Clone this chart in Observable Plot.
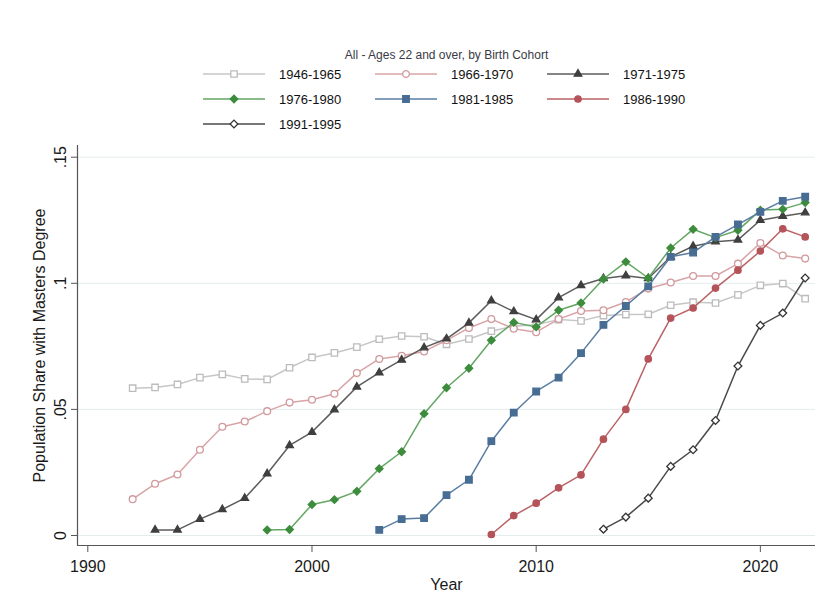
<!DOCTYPE html>
<html>
<head>
<meta charset="utf-8">
<script src="https://cdn.jsdelivr.net/npm/d3@7"></script>
<script src="https://cdn.jsdelivr.net/npm/@observablehq/plot@0.6"></script>
<style>
  body { margin: 0; background: #fff; font-family: "Liberation Sans", Arial, sans-serif; }
  #wrap { width: 821px; height: 611px; overflow: hidden; background: #fff; }
  #head { height: 140px; }
  #head svg, #chart svg { display: block; }
</style>
</head>
<body>
<div id="wrap">
  <div id="head"></div>
  <div id="chart"></div>
</div>
<script>
// ---------------- DATA ----------------
const chartTitle = "All - Ages 22 and over, by Birth Cohort";
const xLabel = "Year";
const yLabel = "Population Share with Masters Degree";
const xTicks = [1990, 2000, 2010, 2020];
const yTicks = [0, 0.05, 0.1, 0.15];

const years = [1992, 1993, 1994, 1995, 1996, 1997, 1998, 1999, 2000, 2001,
               2002, 2003, 2004, 2005, 2006, 2007, 2008, 2009, 2010, 2011,
               2012, 2013, 2014, 2015, 2016, 2017, 2018, 2019, 2020, 2021, 2022];

const cohorts = ["1946-1965", "1966-1970", "1971-1975", "1976-1980", "1981-1985", "1986-1990", "1991-1995"];

const n = null;
const c1946_1965 = [0.0584, 0.0587, 0.0599, 0.0626, 0.0639, 0.0621, 0.0619, 0.0665, 0.0706, 0.0724,
                    0.0747, 0.0778, 0.0791, 0.0788, 0.0758, 0.0779, 0.0810, 0.0830, 0.0836, 0.0856,
                    0.0851, 0.0872, 0.0876, 0.0877, 0.0913, 0.0925, 0.0922, 0.0954, 0.0992, 0.0999, 0.0939];
const c1966_1970 = [0.0144, 0.0205, 0.0242, 0.0340, 0.0431, 0.0452, 0.0493, 0.0527, 0.0538, 0.0562,
                    0.0644, 0.0700, 0.0713, 0.0730, 0.0774, 0.0823, 0.0858, 0.0820, 0.0806, 0.0858,
                    0.0890, 0.0893, 0.0926, 0.0979, 0.1003, 0.1029, 0.1029, 0.1078, 0.1160, 0.1110, 0.1098];
const c1971_1975 = [n,      0.0022, 0.0022, 0.0065, 0.0103, 0.0148, 0.0245, 0.0357, 0.0410, 0.0499,
                    0.0589, 0.0646, 0.0696, 0.0745, 0.0780, 0.0843, 0.0931, 0.0888, 0.0856, 0.0943,
                    0.0992, 0.1019, 0.1030, 0.1019, 0.1105, 0.1147, 0.1165, 0.1172, 0.1250, 0.1266, 0.1280];
const c1976_1980 = [n, n, n, n, n, n,                   0.0022, 0.0024, 0.0123, 0.0142,
                    0.0175, 0.0265, 0.0332, 0.0483, 0.0586, 0.0663, 0.0774, 0.0845, 0.0827, 0.0893,
                    0.0922, 0.1017, 0.1085, 0.1021, 0.1140, 0.1214, 0.1181, 0.1210, 0.1290, 0.1294, 0.1320];
const c1981_1985 = [n, n, n, n, n, n, n, n, n, n,
                    n,      0.0022, 0.0065, 0.0069, 0.0160, 0.0221, 0.0374, 0.0487, 0.0571, 0.0626,
                    0.0723, 0.0835, 0.0910, 0.0988, 0.1105, 0.1122, 0.1184, 0.1233, 0.1283, 0.1327, 0.1343];
const c1986_1990 = [n, n, n, n, n, n, n, n, n, n,
                    n, n, n, n, n, n,       0.0004, 0.0079, 0.0128, 0.0189,
                    0.0240, 0.0382, 0.0500, 0.0700, 0.0862, 0.0902, 0.0981, 0.1052, 0.1128, 0.1216, 0.1184];
const c1991_1995 = [n, n, n, n, n, n, n, n, n, n,
                    n, n, n, n, n, n, n, n, n, n,
                    n,      0.0025, 0.0073, 0.0148, 0.0274, 0.0340, 0.0456, 0.0672, 0.0833, 0.0882, 0.1021];

const seriesValues = [c1946_1965, c1966_1970, c1971_1975, c1976_1980, c1981_1985, c1986_1990, c1991_1995];

// ---------------- STYLES ----------------
const lineColors   = ["#c6c6c6", "#d8a4a7", "#5c5c5c", "#63a663", "#5a7ea3", "#bb6266", "#4a4a4a"];
const markerStroke = ["#bcbcbc", "#d19a9d", "#3f3f3f", "#3d8c3d", "#486d93", "#b4545a", "#333333"];
const markerFill   = ["#ffffff", "#ffffff", "#3f3f3f", "#3d8c3d", "#486d93", "#b4545a", "#ffffff"];
const symbols      = ["square", "circle", "triangle", "diamond2", "square", "circle", "diamond2"];
const markerR      = [3.6, 3.4, 2.8, 3.4, 3.7, 3.2, 3.5];
const d3Symbols    = {square: d3.symbolSquare, circle: d3.symbolCircle, triangle: d3.symbolTriangle, diamond2: d3.symbolDiamond2};

const fontFamily = "'Liberation Sans', Arial, Helvetica, sans-serif";

// ---------------- TABLE ----------------
const rows = [];
seriesValues.forEach((vals, i) => {
  vals.forEach((v, j) => {
    if (v != null) rows.push({cohort: cohorts[i], idx: i, year: years[j], value: v});
  });
});

// ---------------- HEADER (title + legend) ----------------
const head = d3.select("#head").append("svg")
  .attr("width", 821).attr("height", 140)
  .style("font-family", fontFamily);

head.append("text")
  .attr("x", 446.5).attr("y", 55)
  .attr("text-anchor", "middle").attr("dominant-baseline", "central")
  .attr("fill", "#3a3a44").style("font-size", "12px")
  .text(chartTitle);

const legCols = [203, 375, 547];
const legRows = [74, 99, 124];
cohorts.forEach((c, i) => {
  const x0 = legCols[i % 3], y0 = legRows[Math.floor(i / 3)];
  const g = head.append("g");
  g.append("line").attr("x1", x0).attr("x2", x0 + 62).attr("y1", y0).attr("y2", y0)
    .attr("stroke", lineColors[i]).attr("stroke-width", 1.5);
  g.append("path")
    .attr("transform", `translate(${x0 + 31},${y0})`)
    .attr("d", d3.symbol(d3Symbols[symbols[i]], Math.PI * markerR[i] * markerR[i])())
    .attr("fill", markerFill[i]).attr("stroke", markerStroke[i]).attr("stroke-width", 1.3);
  g.append("text").attr("x", x0 + 76).attr("y", y0)
    .attr("dominant-baseline", "central").attr("fill", "#111")
    .style("font-size", "13px").text(c);
});

// ---------------- PLOT ----------------
const xDomain = [1989.54, 2022.46];
const yDomain = [-0.00397, 0.15464];
const fmtY = d => d === 0 ? "0" : String(d).replace(/^0/, "");

const seriesMarks = seriesValues.flatMap((vals, i) => {
  const data = rows.filter(r => r.idx === i);
  return [
    Plot.line(data, {x: "year", y: "value", stroke: lineColors[i], strokeWidth: 1.5}),
    Plot.dot(data, {x: "year", y: "value", symbol: symbols[i], r: markerR[i],
                    fill: markerFill[i], stroke: markerStroke[i], strokeWidth: 1.3})
  ];
});

const chart = Plot.plot({
  width: 821,
  height: 471,
  marginTop: 5,
  marginBottom: 66,
  marginLeft: 77,
  marginRight: 6,
  style: {fontFamily: fontFamily, fontSize: "16px", color: "#1a1a1a", background: "#fff"},
  x: {domain: xDomain},
  y: {domain: yDomain},
  marks: [
    Plot.gridY(yTicks, {stroke: "#e4eded", strokeOpacity: 1, strokeWidth: 1}),
    Plot.axisX(xTicks, {tickSize: 7, tickPadding: 8, tickFormat: d => String(d), fontSize: 16,
                        stroke: "#555", label: xLabel, labelAnchor: "center", labelArrow: "none", labelOffset: 44}),
    Plot.axisY(yTicks, {tickSize: 6, tickPadding: 6, tickRotate: -90, tickFormat: fmtY, fontSize: 16,
                        stroke: "#555", label: yLabel, labelAnchor: "center", labelArrow: "none", labelOffset: 44}),
    Plot.ruleX([xDomain[0]], {stroke: "#555", strokeWidth: 1.2}),
    Plot.ruleY([yDomain[0]], {stroke: "#555", strokeWidth: 1.2}),
    ...seriesMarks
  ]
});
document.getElementById("chart").appendChild(chart);
</script>
</body>
</html>
